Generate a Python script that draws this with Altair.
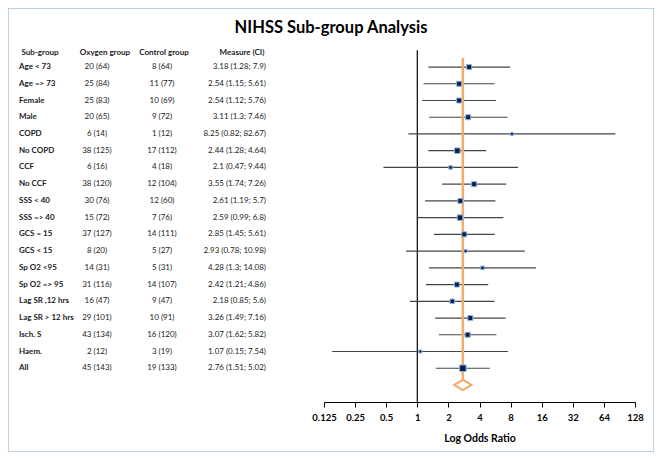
import altair as alt
import pandas as pd

subgroups = ["Age < 73", "Age => 73", "Female", "Male", "COPD", "No COPD", "CCF", "No CCF",
             "SSS < 40", "SSS => 40", "GCS = 15", "GCS < 15", "Sp O2 <95", "Sp O2 => 95",
             "Lag SR ,12 hrs", "Lag SR > 12 hrs", "Isch. S", "Haem.", "All"]
oxygen = ["20 (64)", "25 (84)", "25 (83)", "20 (65)", "6 (14)", "38 (125)", "6 (16)", "38 (120)",
          "30 (76)", "15 (72)", "37 (127)", "8 (20)", "14 (31)", "31 (116)", "16 (47)", "29 (101)",
          "43 (134)", "2 (12)", "45 (143)"]
control = ["8 (64)", "11 (77)", "10 (69)", "9 (72)", "1 (12)", "17 (112)", "4 (18)", "12 (104)",
           "12 (60)", "7 (76)", "14 (111)", "5 (27)", "5 (31)", "14 (107)", "9 (47)", "10 (91)",
           "16 (120)", "3 (19)", "19 (133)"]
measure = ["3.18 (1.28; 7.9)", "2.54 (1.15; 5.61)", "2.54 (1.12; 5.76)", "3.11 (1.3; 7.46)",
           "8.25 (0.82; 82.67)", "2.44 (1.28; 4.64)", "2.1 (0.47; 9.44)", "3.55 (1.74; 7.26)",
           "2.61 (1.19; 5.7)", "2.59 (0.99; 6.8)", "2.85 (1.45; 5.61)", "2.93 (0.78; 10.98)",
           "4.28 (1.3; 14.08)", "2.42 (1.21; 4.86)", "2.18 (0.85; 5.6)", "3.26 (1.49; 7.16)",
           "3.07 (1.62; 5.82)", "1.07 (0.15; 7.54)", "2.76 (1.51; 5.02)"]
odds = [3.18, 2.54, 2.54, 3.11, 8.25, 2.44, 2.1, 3.55, 2.61, 2.59, 2.85, 2.93, 4.28, 2.42,
        2.18, 3.26, 3.07, 1.07, 2.76]
low = [1.28, 1.15, 1.12, 1.3, 0.82, 1.28, 0.47, 1.74, 1.19, 0.99, 1.45, 0.78, 1.3, 1.21,
       0.85, 1.49, 1.62, 0.15, 1.51]
high = [7.9, 5.61, 5.76, 7.46, 82.67, 4.64, 9.44, 7.26, 5.7, 6.8, 5.61, 10.98, 14.08, 4.86,
        5.6, 7.16, 5.82, 7.54, 5.02]
marker_side = [5, 5, 5, 5, 3, 5.5, 3.5, 5, 5, 5.5, 5, 3, 3.5, 5, 4.5, 5, 5, 3, 6.5]
tick_values = [0.125, 0.25, 0.5, 1, 2, 4, 8, 16, 32, 64, 128]
headers = ["Sub-group", "Oxygen group", "Control group", "Measure (CI)"]

FONT = "Lato"
df = pd.DataFrame({"sub": subgroups, "oxy": oxygen, "ctl": control, "measure": measure,
                   "v": odds, "lo": low, "hi": high,
                   "size": [s * s for s in marker_side]})

ydomain = ["_top"] + subgroups + ["_dia", "_bot"]
yscale = alt.Scale(type="point", domain=ydomain, range=[42.3, 393.7], padding=0)
xscale = alt.Scale(type="log", base=2, domain=[0.125, 128], range=[316, 627])
xaxis = alt.Axis(values=tick_values, format="~g", grid=False, offset=-50,
                 labelFont=FONT, labelFontWeight="bold", labelFontSize=9.5, labelColor="#000",
                 labelPadding=5, labelFlush=False,
                 domainColor="#000", tickColor="#000", tickSize=5,
                 title="Log Odds Ratio", titleFont=FONT, titleFontWeight="bold",
                 titleFontSize=10.5, titleColor="#000", titlePadding=12)


def X(field):
    return alt.X(field, type="quantitative", scale=xscale, axis=xaxis)


def Y(field):
    return alt.Y(field, type="nominal", scale=yscale, axis=None)


base = alt.Chart(df)

vline_df = pd.DataFrame({"v": [1], "sub": ["_top"], "sub2": ["_bot"]})
vline = alt.Chart(vline_df).mark_rule(color="#000", strokeWidth=1.2).encode(
    x=X("v"), y=Y("sub"), y2="sub2")

ci = base.mark_rule(color="#444", strokeWidth=1.2).encode(x=X("lo"), x2="hi", y=Y("sub"))

pooled_df = pd.DataFrame({"v": [odds[-1]], "sub": [subgroups[0]], "sub2": ["_dia"]})
pooled = alt.Chart(pooled_df).mark_rule(color="#F2AC6E", strokeWidth=2.5, yOffset=-9,
                                        y2Offset=-5).encode(x=X("v"), y=Y("sub"), y2="sub2")

markers = base.mark_point(shape="square", filled=True, fill="#0B1F48", stroke="#8DB3E2",
                          strokeWidth=1, opacity=1).encode(
    x=X("v"), y=Y("sub"), size=alt.Size("size:Q", scale=None, legend=None))

dia_df = pd.DataFrame({"v": [odds[-1]], "sub": ["_dia"]})
diamond = alt.Chart(dia_df).mark_point(shape="M -1 0 L 0 -0.6 L 1 0 L 0 0.6 Z", size=300,
                                       filled=False, stroke="#F2AC6E", strokeWidth=2,
                                       opacity=1).encode(x=X("v"), y=Y("sub"))

txt = dict(font=FONT, fontSize=8, color="#222")
t_sub = base.mark_text(align="left", fontWeight="bold", **txt).encode(
    x=alt.value(11), y=Y("sub"), text="sub:N")
t_oxy = base.mark_text(align="center", **txt).encode(x=alt.value(89), y=Y("sub"), text="oxy:N")
t_ctl = base.mark_text(align="center", **txt).encode(x=alt.value(154), y=Y("sub"), text="ctl:N")
t_mea = base.mark_text(align="right", **txt).encode(x=alt.value(258), y=Y("sub"), text="measure:N")

header_x = [32, 97, 156, 234]
header_layers = []
for h, hx in zip(headers, header_x):
    hdf = pd.DataFrame({"sub": ["_top"], "label": [h]})
    header_layers.append(
        alt.Chart(hdf).mark_text(align="center", fontWeight="bold", dy=3, **txt).encode(
            x=alt.value(hx), y=Y("sub"), text="label:N"))

chart = alt.layer(vline, ci, pooled, markers, diamond, t_sub, t_oxy, t_ctl, t_mea,
                  *header_layers).properties(
    width=646, height=444,
    title=alt.TitleParams("NIHSS Sub-group Analysis", font=FONT, fontSize=16.5,
                          fontWeight="bold", color="#000", anchor="middle", offset=-28),
    autosize=alt.AutoSizeParams(type="none"),
    padding=0,
).configure_view(stroke="#A9C1DD", strokeWidth=1.5)

chart.save("out.html", embed_options={"renderer": "svg", "actions": False})
